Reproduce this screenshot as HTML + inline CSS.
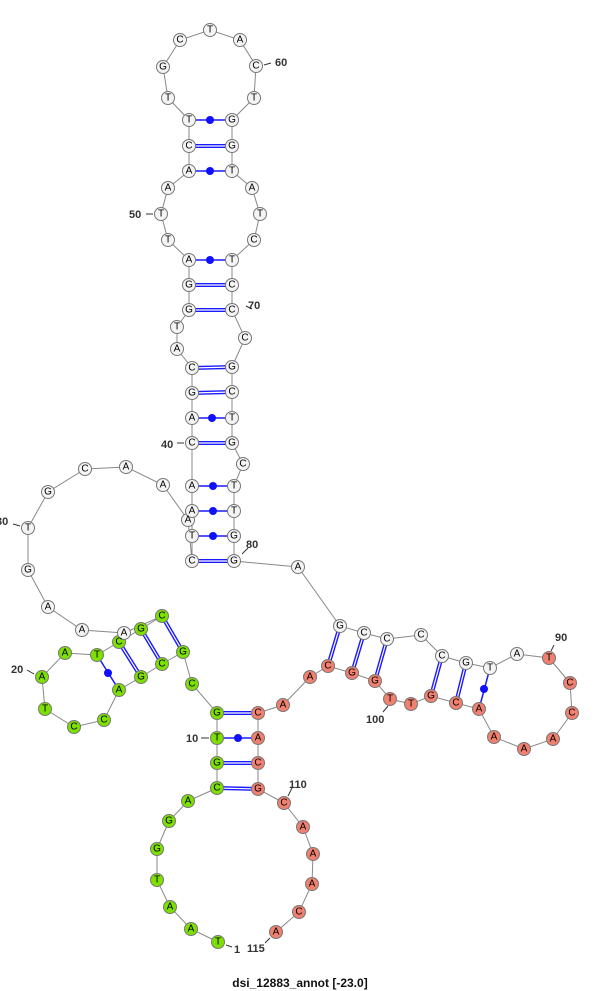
<!DOCTYPE html>
<html><head><meta charset="utf-8"><style>
body{margin:0;background:#fff}
svg{display:block}
text{font-family:"Liberation Sans","DejaVu Sans",sans-serif}
.n text{font-size:10px;text-anchor:middle;dominant-baseline:central}
.l{font-size:11px;font-weight:bold;fill:#333;font-family:"DejaVu Serif","Liberation Serif",serif}
</style></head><body>
<svg width="600" height="991" viewBox="0 0 600 991" xmlns="http://www.w3.org/2000/svg">
<polyline fill="none" stroke="#888" stroke-width="1" points="218,942 191,929 170,907 157,880 157,849 169,821 188,801 217,788 217,763 217,738 217,713 192,684 183,652 162,664 141,677 119,690 104,720 74,727 45,709 42,677 65,653 97,655 119,642 141,629 162,616 124,633 82,630 48,607 28,570 28,528 48,492 85,469 126,467 163,485 188,520 192,561 192,536 192,511 192,486 192,443 192,418 192,393 192,368 177,349 177,327 189,310 189,285 189,260 168,240 161,214 168,188 189,171 189,146 189,120 168,98 163,67 180,40 210,30 240,40 256,66 254,98 232,120 232,146 232,171 252,188 260,214 254,240 232,260 232,285 232,310 245,338 232,367 232,392 232,418 232,443 243,464 234,486 234,511 234,536 234,561 298,567 340,626 364,633 387,639 421,635 442,656 466,663 490,668 517,654 549,658 570,683 572,713 553,739 524,749 494,737 479,709 456,703 431,696 411,704 390,699 375,681 352,673 328,666 310,677 283,705 258,713 258,738 258,763 258,789 284,803 303,827 313,854 312,884 299,912 276,932"/>
<g id="dbl" stroke="#1a1aff" stroke-width="4">
<line x1="217" y1="788" x2="258" y2="789"/><line x1="217" y1="763" x2="258" y2="763"/><line x1="217" y1="713" x2="258" y2="713"/>
<line x1="183" y1="652" x2="162" y2="616"/><line x1="162" y1="664" x2="141" y2="629"/><line x1="141" y1="677" x2="119" y2="642"/>
<line x1="192" y1="561" x2="234" y2="561"/><line x1="192" y1="443" x2="232" y2="443"/><line x1="192" y1="393" x2="232" y2="392"/><line x1="192" y1="368" x2="232" y2="367"/>
<line x1="189" y1="310" x2="232" y2="310"/><line x1="189" y1="285" x2="232" y2="285"/><line x1="189" y1="146" x2="232" y2="146"/>
<line x1="340" y1="626" x2="328" y2="666"/><line x1="364" y1="633" x2="352" y2="673"/><line x1="387" y1="639" x2="375" y2="681"/><line x1="442" y1="656" x2="431" y2="696"/><line x1="466" y1="663" x2="456" y2="703"/>
</g>
<g stroke="#fff" stroke-width="1.2">
<line x1="217" y1="788" x2="258" y2="789"/><line x1="217" y1="763" x2="258" y2="763"/><line x1="217" y1="713" x2="258" y2="713"/>
<line x1="183" y1="652" x2="162" y2="616"/><line x1="162" y1="664" x2="141" y2="629"/><line x1="141" y1="677" x2="119" y2="642"/>
<line x1="192" y1="561" x2="234" y2="561"/><line x1="192" y1="443" x2="232" y2="443"/><line x1="192" y1="393" x2="232" y2="392"/><line x1="192" y1="368" x2="232" y2="367"/>
<line x1="189" y1="310" x2="232" y2="310"/><line x1="189" y1="285" x2="232" y2="285"/><line x1="189" y1="146" x2="232" y2="146"/>
<line x1="340" y1="626" x2="328" y2="666"/><line x1="364" y1="633" x2="352" y2="673"/><line x1="387" y1="639" x2="375" y2="681"/><line x1="442" y1="656" x2="431" y2="696"/><line x1="466" y1="663" x2="456" y2="703"/>
</g>
<g stroke="#1a1aff" stroke-width="1.5" fill="#1010ff">
<line x1="217" y1="738" x2="258" y2="738"/><circle cx="238" cy="738" r="4" stroke="none"/>
<line x1="119" y1="690" x2="97" y2="655"/><circle cx="108" cy="673" r="4" stroke="none"/>
<line x1="192" y1="536" x2="234" y2="536"/><circle cx="213" cy="536" r="4" stroke="none"/>
<line x1="192" y1="511" x2="234" y2="511"/><circle cx="213" cy="511" r="4" stroke="none"/>
<line x1="192" y1="486" x2="234" y2="486"/><circle cx="213" cy="486" r="4" stroke="none"/>
<line x1="192" y1="418" x2="232" y2="418"/><circle cx="212" cy="418" r="4" stroke="none"/>
<line x1="189" y1="260" x2="232" y2="260"/><circle cx="210" cy="260" r="4" stroke="none"/>
<line x1="189" y1="171" x2="232" y2="171"/><circle cx="210" cy="171" r="4" stroke="none"/>
<line x1="189" y1="120" x2="232" y2="120"/><circle cx="210" cy="120" r="4" stroke="none"/>
<line x1="490" y1="668" x2="479" y2="709"/><circle cx="484" cy="689" r="4" stroke="none"/>
</g>
<g class="n" stroke="#777" stroke-width="1">
<g fill="#7ee000">
<circle cx="218" cy="942" r="6.5"/><circle cx="191" cy="929" r="6.5"/><circle cx="170" cy="907" r="6.5"/><circle cx="157" cy="880" r="6.5"/><circle cx="157" cy="849" r="6.5"/><circle cx="169" cy="821" r="6.5"/><circle cx="188" cy="801" r="6.5"/><circle cx="217" cy="788" r="6.5"/><circle cx="217" cy="763" r="6.5"/><circle cx="217" cy="738" r="6.5"/><circle cx="217" cy="713" r="6.5"/><circle cx="192" cy="684" r="6.5"/><circle cx="183" cy="652" r="6.5"/><circle cx="162" cy="664" r="6.5"/><circle cx="141" cy="677" r="6.5"/><circle cx="119" cy="690" r="6.5"/><circle cx="104" cy="720" r="6.5"/><circle cx="74" cy="727" r="6.5"/><circle cx="45" cy="709" r="6.5"/><circle cx="42" cy="677" r="6.5"/><circle cx="65" cy="653" r="6.5"/><circle cx="97" cy="655" r="6.5"/><circle cx="119" cy="642" r="6.5"/><circle cx="141" cy="629" r="6.5"/><circle cx="162" cy="616" r="6.5"/>
</g>
<g fill="#f4f4f4">
<circle cx="124" cy="633" r="6.5"/><circle cx="82" cy="630" r="6.5"/><circle cx="48" cy="607" r="6.5"/><circle cx="28" cy="570" r="6.5"/><circle cx="28" cy="528" r="6.5"/><circle cx="48" cy="492" r="6.5"/><circle cx="85" cy="469" r="6.5"/><circle cx="126" cy="467" r="6.5"/><circle cx="163" cy="485" r="6.5"/><circle cx="188" cy="520" r="6.5"/><circle cx="192" cy="561" r="6.5"/><circle cx="192" cy="536" r="6.5"/><circle cx="192" cy="511" r="6.5"/><circle cx="192" cy="486" r="6.5"/><circle cx="192" cy="443" r="6.5"/><circle cx="192" cy="418" r="6.5"/><circle cx="192" cy="393" r="6.5"/><circle cx="192" cy="368" r="6.5"/><circle cx="177" cy="349" r="6.5"/><circle cx="177" cy="327" r="6.5"/><circle cx="189" cy="310" r="6.5"/><circle cx="189" cy="285" r="6.5"/><circle cx="189" cy="260" r="6.5"/><circle cx="168" cy="240" r="6.5"/><circle cx="161" cy="214" r="6.5"/><circle cx="168" cy="188" r="6.5"/><circle cx="189" cy="171" r="6.5"/><circle cx="189" cy="146" r="6.5"/><circle cx="189" cy="120" r="6.5"/><circle cx="168" cy="98" r="6.5"/><circle cx="163" cy="67" r="6.5"/><circle cx="180" cy="40" r="6.5"/><circle cx="210" cy="30" r="6.5"/><circle cx="240" cy="40" r="6.5"/><circle cx="256" cy="66" r="6.5"/><circle cx="254" cy="98" r="6.5"/><circle cx="232" cy="120" r="6.5"/><circle cx="232" cy="146" r="6.5"/><circle cx="232" cy="171" r="6.5"/><circle cx="252" cy="188" r="6.5"/><circle cx="260" cy="214" r="6.5"/><circle cx="254" cy="240" r="6.5"/><circle cx="232" cy="260" r="6.5"/><circle cx="232" cy="285" r="6.5"/><circle cx="232" cy="310" r="6.5"/><circle cx="245" cy="338" r="6.5"/><circle cx="232" cy="367" r="6.5"/><circle cx="232" cy="392" r="6.5"/><circle cx="232" cy="418" r="6.5"/><circle cx="232" cy="443" r="6.5"/><circle cx="243" cy="464" r="6.5"/><circle cx="234" cy="486" r="6.5"/><circle cx="234" cy="511" r="6.5"/><circle cx="234" cy="536" r="6.5"/><circle cx="234" cy="561" r="6.5"/><circle cx="298" cy="567" r="6.5"/><circle cx="340" cy="626" r="6.5"/><circle cx="364" cy="633" r="6.5"/><circle cx="387" cy="639" r="6.5"/><circle cx="421" cy="635" r="6.5"/><circle cx="442" cy="656" r="6.5"/><circle cx="466" cy="663" r="6.5"/><circle cx="490" cy="668" r="6.5"/><circle cx="517" cy="654" r="6.5"/>
</g>
<g fill="#f08070">
<circle cx="549" cy="658" r="6.5"/><circle cx="570" cy="683" r="6.5"/><circle cx="572" cy="713" r="6.5"/><circle cx="553" cy="739" r="6.5"/><circle cx="524" cy="749" r="6.5"/><circle cx="494" cy="737" r="6.5"/><circle cx="479" cy="709" r="6.5"/><circle cx="456" cy="703" r="6.5"/><circle cx="431" cy="696" r="6.5"/><circle cx="411" cy="704" r="6.5"/><circle cx="390" cy="699" r="6.5"/><circle cx="375" cy="681" r="6.5"/><circle cx="352" cy="673" r="6.5"/><circle cx="328" cy="666" r="6.5"/><circle cx="310" cy="677" r="6.5"/><circle cx="283" cy="705" r="6.5"/><circle cx="258" cy="713" r="6.5"/><circle cx="258" cy="738" r="6.5"/><circle cx="258" cy="763" r="6.5"/><circle cx="258" cy="789" r="6.5"/><circle cx="284" cy="803" r="6.5"/><circle cx="303" cy="827" r="6.5"/><circle cx="313" cy="854" r="6.5"/><circle cx="312" cy="884" r="6.5"/><circle cx="299" cy="912" r="6.5"/><circle cx="276" cy="932" r="6.5"/>
</g>
<g fill="#000" stroke="none">
<text x="218" y="942">T</text><text x="191" y="929">A</text><text x="170" y="907">A</text><text x="157" y="880">T</text><text x="157" y="849">G</text><text x="169" y="821">G</text><text x="188" y="801">A</text><text x="217" y="788">C</text><text x="217" y="763">G</text><text x="217" y="738">T</text><text x="217" y="713">G</text><text x="192" y="684">C</text><text x="183" y="652">G</text><text x="162" y="664">C</text><text x="141" y="677">G</text><text x="119" y="690">A</text><text x="104" y="720">C</text><text x="74" y="727">C</text><text x="45" y="709">T</text><text x="42" y="677">A</text><text x="65" y="653">A</text><text x="97" y="655">T</text><text x="119" y="642">C</text><text x="141" y="629">G</text><text x="162" y="616">C</text>
<text x="124" y="633">A</text><text x="82" y="630">A</text><text x="48" y="607">A</text><text x="28" y="570">G</text><text x="28" y="528">T</text><text x="48" y="492">G</text><text x="85" y="469">C</text><text x="126" y="467">A</text><text x="163" y="485">A</text><text x="188" y="520">A</text><text x="192" y="561">C</text><text x="192" y="536">T</text><text x="192" y="511">A</text><text x="192" y="486">A</text><text x="192" y="443">C</text><text x="192" y="418">A</text><text x="192" y="393">G</text><text x="192" y="368">C</text><text x="177" y="349">A</text><text x="177" y="327">T</text><text x="189" y="310">G</text><text x="189" y="285">G</text><text x="189" y="260">A</text><text x="168" y="240">T</text><text x="161" y="214">T</text><text x="168" y="188">A</text><text x="189" y="171">A</text><text x="189" y="146">C</text><text x="189" y="120">T</text><text x="168" y="98">T</text><text x="163" y="67">G</text><text x="180" y="40">C</text><text x="210" y="30">T</text><text x="240" y="40">A</text><text x="256" y="66">C</text><text x="254" y="98">T</text><text x="232" y="120">G</text><text x="232" y="146">G</text><text x="232" y="171">T</text><text x="252" y="188">A</text><text x="260" y="214">T</text><text x="254" y="240">C</text><text x="232" y="260">T</text><text x="232" y="285">C</text><text x="232" y="310">C</text><text x="245" y="338">C</text><text x="232" y="367">G</text><text x="232" y="392">C</text><text x="232" y="418">T</text><text x="232" y="443">G</text><text x="243" y="464">C</text><text x="234" y="486">T</text><text x="234" y="511">T</text><text x="234" y="536">G</text><text x="234" y="561">G</text><text x="298" y="567">A</text><text x="340" y="626">G</text><text x="364" y="633">C</text><text x="387" y="639">C</text><text x="421" y="635">C</text><text x="442" y="656">C</text><text x="466" y="663">G</text><text x="490" y="668">T</text><text x="517" y="654">A</text>
<text x="549" y="658">T</text><text x="570" y="683">C</text><text x="572" y="713">C</text><text x="553" y="739">A</text><text x="524" y="749">A</text><text x="494" y="737">A</text><text x="479" y="709">A</text><text x="456" y="703">C</text><text x="431" y="696">G</text><text x="411" y="704">T</text><text x="390" y="699">T</text><text x="375" y="681">G</text><text x="352" y="673">G</text><text x="328" y="666">C</text><text x="310" y="677">A</text><text x="283" y="705">A</text><text x="258" y="713">C</text><text x="258" y="738">A</text><text x="258" y="763">C</text><text x="258" y="789">G</text><text x="284" y="803">C</text><text x="303" y="827">A</text><text x="313" y="854">A</text><text x="312" y="884">A</text><text x="299" y="912">C</text><text x="276" y="932">A</text>
</g>
</g>
<g stroke="#333" stroke-width="1">
<line x1="264" y1="65" x2="271" y2="63"/><line x1="146" y1="214" x2="153" y2="214"/><line x1="252" y1="309" x2="246" y2="306"/><line x1="177" y1="443" x2="184" y2="443"/><line x1="13" y1="524" x2="20" y2="526"/><line x1="248" y1="548" x2="242" y2="554"/><line x1="27" y1="670" x2="34" y2="674"/><line x1="201" y1="738" x2="209" y2="738"/><line x1="554" y1="645" x2="551" y2="651"/><line x1="383" y1="712" x2="388" y2="706"/><line x1="292" y1="788" x2="288" y2="796"/><line x1="226" y1="945" x2="232" y2="947"/><line x1="265" y1="943" x2="270" y2="938"/>
</g>
<g class="l">
<text x="275" y="66">60</text><text x="129" y="218">50</text><text x="248" y="309">70</text><text x="161" y="448">40</text><text x="-4" y="525">30</text><text x="246" y="548">80</text><text x="11" y="673">20</text><text x="186" y="742">10</text><text x="555" y="641">90</text><text x="366" y="723">100</text><text x="289" y="788">110</text><text x="234" y="953">1</text><text x="247" y="952">115</text>
</g>
<text x="300" y="987" text-anchor="middle" style="font-size:12px;font-weight:bold;fill:#111">dsi_12883_annot [-23.0]</text>
</svg>
</body></html>
